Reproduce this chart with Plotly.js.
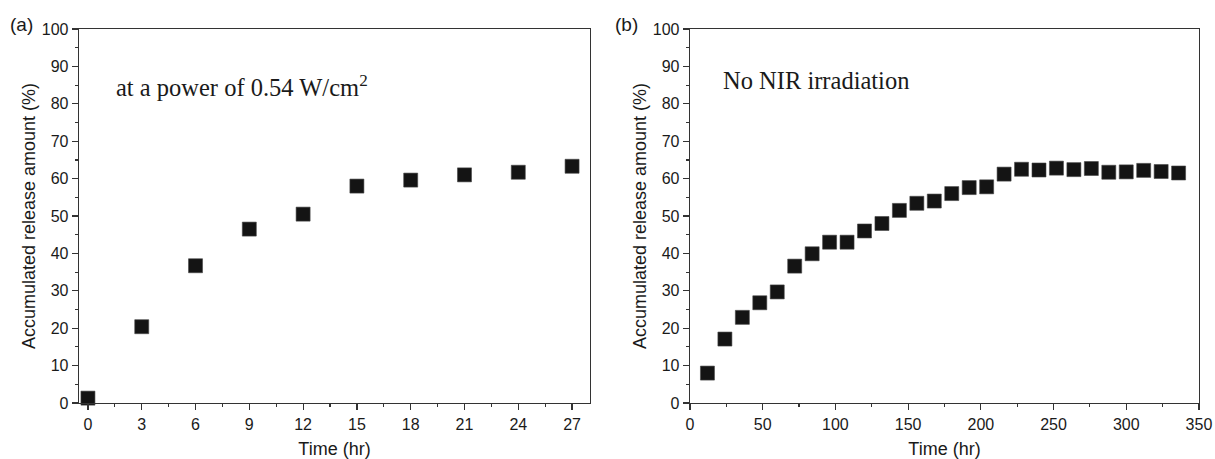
<!DOCTYPE html>
<html>
<head>
<meta charset="utf-8">
<script src="https://cdn.plot.ly/plotly-3.0.1.min.js"></script>
<style>html,body{margin:0;padding:0;background:#fff;}#chart{width:1215px;height:459px;}</style>
</head>
<body>
<div id="chart"></div>
<script>
// Panel (a): irradiated at 0.54 W/cm2
const timeA = [0, 3, 6, 9, 12, 15, 18, 21, 24, 27];
const releaseA = [1.3, 20.4, 36.7, 46.5, 50.5, 58.0, 59.6, 61.0, 61.7, 63.3];
// Panel (b): no NIR irradiation
const timeB = [12, 24, 36, 48, 60, 72, 84, 96, 108, 120, 132, 144, 156, 168, 180, 192, 204, 216, 228, 240, 252, 264, 276, 288, 300, 312, 324, 336];
const releaseB = [8.0, 17.1, 22.9, 26.8, 29.7, 36.6, 39.9, 43.0, 43.0, 46.0, 48.0, 51.5, 53.4, 54.0, 56.0, 57.6, 57.8, 61.2, 62.5, 62.3, 62.8, 62.4, 62.7, 61.7, 61.8, 62.2, 61.9, 61.5];
const yTicks = [0, 10, 20, 30, 40, 50, 60, 70, 80, 90, 100];
const xTicksA = [0, 3, 6, 9, 12, 15, 18, 21, 24, 27];
const xTicksB = [0, 50, 100, 150, 200, 250, 300, 350];
const labelA = 'at a power of 0.54 W/cm<sup>2</sup>';
const labelB = 'No NIR irradiation';
const xTitle = 'Time (hr)';
const yTitle = 'Accumulated release amount (%)';

const sans = 'Liberation Sans, Arial, sans-serif';
const serif = 'Liberation Serif, Times New Roman, serif';
const axCol = '#333';
const txtCol = '#1a1a1a';

const marker = {symbol: 'square', size: 14, color: '#141414', line: {color: '#444', width: 0.6}};

function xAxis(domain, range, ticks, minorDt, anchor) {
  return {
    domain: domain, range: range, anchor: anchor,
    tickmode: 'array', tickvals: ticks, ticktext: ticks.map(String),
    ticks: 'outside', ticklen: 6, tickwidth: 1.2, tickcolor: axCol,
    minor: {dtick: minorDt, tick0: 0, ticks: 'outside', ticklen: 3, tickwidth: 1.2, tickcolor: axCol, showgrid: false},
    showline: true, linecolor: axCol, linewidth: 1.3, mirror: true,
    showgrid: false, zeroline: false,
    tickfont: {family: sans, size: 16, color: txtCol},
    title: {text: xTitle, font: {family: sans, size: 18, color: txtCol}, standoff: 11},
    automargin: false, fixedrange: true
  };
}
function yAxis(anchor) {
  return {
    domain: [0.1220, 0.9368], range: [0, 100], anchor: anchor,
    tickmode: 'array', tickvals: yTicks, ticktext: yTicks.map(String),
    ticks: 'outside', ticklen: 6, tickwidth: 1.2, tickcolor: axCol,
    minor: {dtick: 5, tick0: 0, ticks: 'outside', ticklen: 3, tickwidth: 1.2, tickcolor: axCol, showgrid: false},
    showline: true, linecolor: axCol, linewidth: 1.3, mirror: true,
    showgrid: false, zeroline: false,
    tickfont: {family: sans, size: 16, color: txtCol},
    title: {text: yTitle, font: {family: sans, size: 18, color: txtCol}, standoff: 1},
    automargin: false, fixedrange: true
  };
}

const data = [
  {x: timeA, y: releaseA, type: 'scatter', mode: 'markers', marker: marker, xaxis: 'x', yaxis: 'y', cliponaxis: false},
  {x: timeB, y: releaseB, type: 'scatter', mode: 'markers', marker: marker, xaxis: 'x2', yaxis: 'y2', cliponaxis: false}
];

const layout = {
  width: 1215, height: 459,
  margin: {l: 0, r: 0, t: 0, b: 0},
  paper_bgcolor: '#fff', plot_bgcolor: '#fff',
  showlegend: false,
  xaxis: xAxis([0.0650, 0.4856], [-0.5, 28], xTicksA, 1.5, 'y'),
  yaxis: yAxis('x'),
  xaxis2: xAxis([0.5679, 0.9868], [0, 350], xTicksB, 25, 'y2'),
  yaxis2: yAxis('x2'),
  annotations: [
    {text: labelA, xref: 'paper', yref: 'paper', x: 114/1215, y: 1 - 86/459, xanchor: 'left', yanchor: 'middle', showarrow: false, font: {family: serif, size: 24.5, color: txtCol}},
    {text: labelB, xref: 'paper', yref: 'paper', x: 721/1215, y: 1 - 80/459, xanchor: 'left', yanchor: 'middle', showarrow: false, font: {family: serif, size: 24.5, color: txtCol}},
    {text: '(a)', xref: 'paper', yref: 'paper', x: 8/1215, y: 1 - 24/459, xanchor: 'left', yanchor: 'middle', showarrow: false, font: {family: sans, size: 19, color: txtCol}},
    {text: '(b)', xref: 'paper', yref: 'paper', x: 613/1215, y: 1 - 24/459, xanchor: 'left', yanchor: 'middle', showarrow: false, font: {family: sans, size: 19, color: txtCol}}
  ]
};

Plotly.newPlot('chart', data, layout, {displayModeBar: false, staticPlot: true});
</script>
</body>
</html>
